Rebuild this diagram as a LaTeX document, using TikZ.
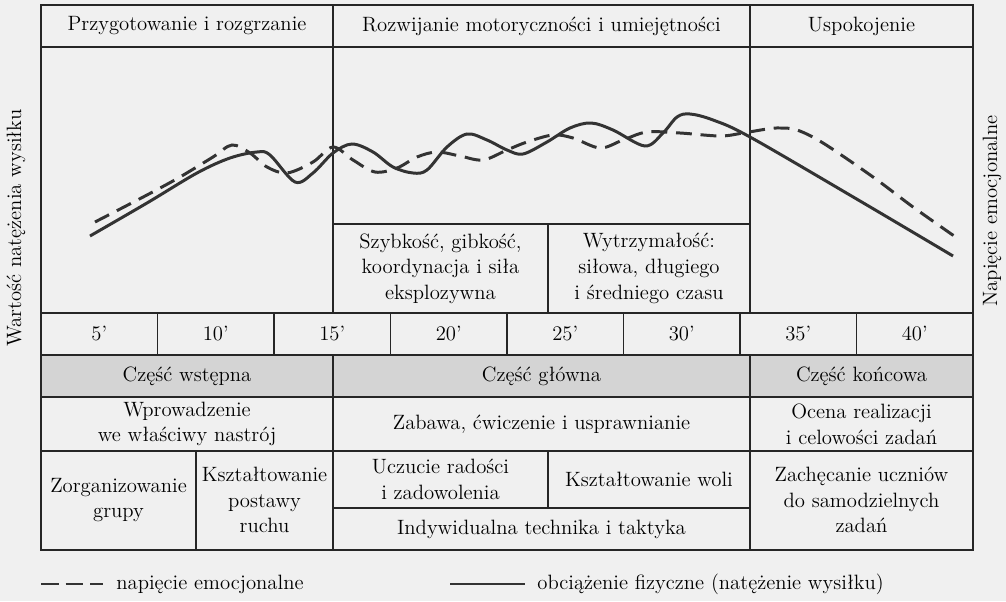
\documentclass[tikz,border=0pt]{standalone}
\usepackage{tikz}
\tikzstyle{gridLine}=[line width = 1.1pt, black!85]
\tikzstyle{cellText}=[inner sep = 0pt, align = center, font = \fontsize{11.8}{14.6}\selectfont]
\tikzstyle{loadCurve}=[line width = 1.7pt, black!80]
\tikzstyle{emotionCurve}=[line width = 1.7pt, black!80, dash pattern = on 9pt off 5pt]

\begin{document}
\begin{tikzpicture}[x = 0.02cm, y = -0.02cm]
\fill[black!6] (0,0) rectangle (1006,601);
\useasboundingbox (0,0) rectangle (1006,601);
\fill[black!17] (41,355) rectangle (973,397);
% table
\draw[gridLine] (41,5) rectangle (973,550);
\draw[gridLine] (41,47) -- (973,47);
\draw[gridLine] (41,313) -- (973,313);
\draw[gridLine] (41,355) -- (973,355);
\draw[gridLine] (41,397) -- (973,397);
\draw[gridLine] (41,451) -- (973,451);
\draw[gridLine] (333,5) -- (333,313);
\draw[gridLine] (750,5) -- (750,313);
\draw[gridLine] (333,224) -- (750,224);
\draw[gridLine] (548,224) -- (548,313);
\draw[gridLine] (157.5,313) -- (157.5,355);
\draw[gridLine] (274,313) -- (274,355);
\draw[gridLine] (390.5,313) -- (390.5,355);
\draw[gridLine] (507,313) -- (507,355);
\draw[gridLine] (623.5,313) -- (623.5,355);
\draw[gridLine] (740,313) -- (740,355);
\draw[gridLine] (856.5,313) -- (856.5,355);
\draw[gridLine] (333,355) -- (333,550);
\draw[gridLine] (750,355) -- (750,550);
\draw[gridLine] (196,451) -- (196,550);
\draw[gridLine] (548,451) -- (548,508);
\draw[gridLine] (333,508) -- (750,508);
% curves
\draw[loadCurve] plot[smooth, tension = 0.55] coordinates {(90,236) (147,203) (197,173) (230,158) (257,152) (270,155) (295,182) (313,173) (333,153) (352,144) (373,152) (393,167) (413,173) (427,170) (447,147) (467,134) (487,140) (507,150) (523,154) (547,142) (570,128) (591,123) (613,130) (645,146) (663,133) (677,117) (690,114) (713,120) (750,137) (860,201) (953,256)};
\draw[emotionCurve] plot[smooth, tension = 0.55] coordinates {(95,222) (147,195) (180,177) (213,157) (232,145) (250,153) (267,167) (287,173) (313,162) (333,147) (353,160) (375,172) (397,168) (417,157) (437,152) (460,156) (483,160) (507,150) (527,142) (553,135) (573,138) (600,148) (623,140) (647,132) (680,133) (720,136) (743,133) (767,129) (780,128) (797,130) (823,143) (873,177) (913,207) (957,238)};
% labels
\node[cellText] (h0) at (187,26) {Przygotowanie i rozgrzanie};
\node[cellText] (h1) at (541.5,26) {Rozwijanie motoryczności i umiejętności};
\node[cellText] (h2) at (861.5,26) {Uspokojenie};
\node[cellText] (s0) at (440.5,268.5) {Szybkość, gibkość,\\koordynacja i siła\\eksplozywna};
\node[cellText] (s1) at (649,268.5) {Wytrzymałość:\\siłowa, długiego\\i średniego czasu};
\node[cellText] (m0) at (99.25,334) {5'};
\node[cellText] (m1) at (215.75,334) {10'};
\node[cellText] (m2) at (332.25,334) {15'};
\node[cellText] (m3) at (448.75,334) {20'};
\node[cellText] (m4) at (565.25,334) {25'};
\node[cellText] (m5) at (681.75,334) {30'};
\node[cellText] (m6) at (798.25,334) {35'};
\node[cellText] (m7) at (914.75,334) {40'};
\node[cellText] (p0) at (187,376) {Część wstępna};
\node[cellText] (p1) at (541.5,376) {Część główna};
\node[cellText] (p2) at (861.5,376) {Część końcowa};
\node[cellText] (r0) at (187,424) {Wprowadzenie\\we właściwy nastrój};
\node[cellText] (r1) at (541.5,424) {Zabawa, ćwiczenie i usprawnianie};
\node[cellText] (r2) at (861.5,424) {Ocena realizacji\\i celowości zadań};
\node[cellText] (b0) at (118.5,500) {Zorganizowanie\\grupy};
\node[cellText] (b1) at (264.5,500) {Kształtowanie\\postawy\\ruchu};
\node[cellText] (b2) at (440.5,479.5) {Uczucie radości\\i zadowolenia};
\node[cellText] (b3) at (649,479.5) {Kształtowanie woli};
\node[cellText] (b4) at (541.5,529) {Indywidualna technika i taktyka};
\node[cellText] (b5) at (861.5,500) {Zachęcanie uczniów\\do samodzielnych\\zadań};
\node[cellText, rotate = 90] (yl) at (16,228) {Wartość natężenia wysiłku};
\node[cellText, rotate = 90] (yr) at (992,211) {Napięcie emocjonalne};
% legend
\coordinate (d0) at (41,584);
\coordinate (d1) at (103,584);
\coordinate (l0) at (450,584);
\coordinate (l1) at (525,584);
\draw[emotionCurve, line width = 1.3pt, dash pattern = on 10pt off 4pt] (d0) -- (d1);
\draw[loadCurve, line width = 1.3pt] (l0) -- (l1);
\node[cellText, anchor = west] (e0) at (116,584) {napięcie emocjonalne};
\node[cellText, anchor = west] (e1) at (537,584) {obciążenie fizyczne (natężenie wysiłku)};
\end{tikzpicture}
\end{document}
